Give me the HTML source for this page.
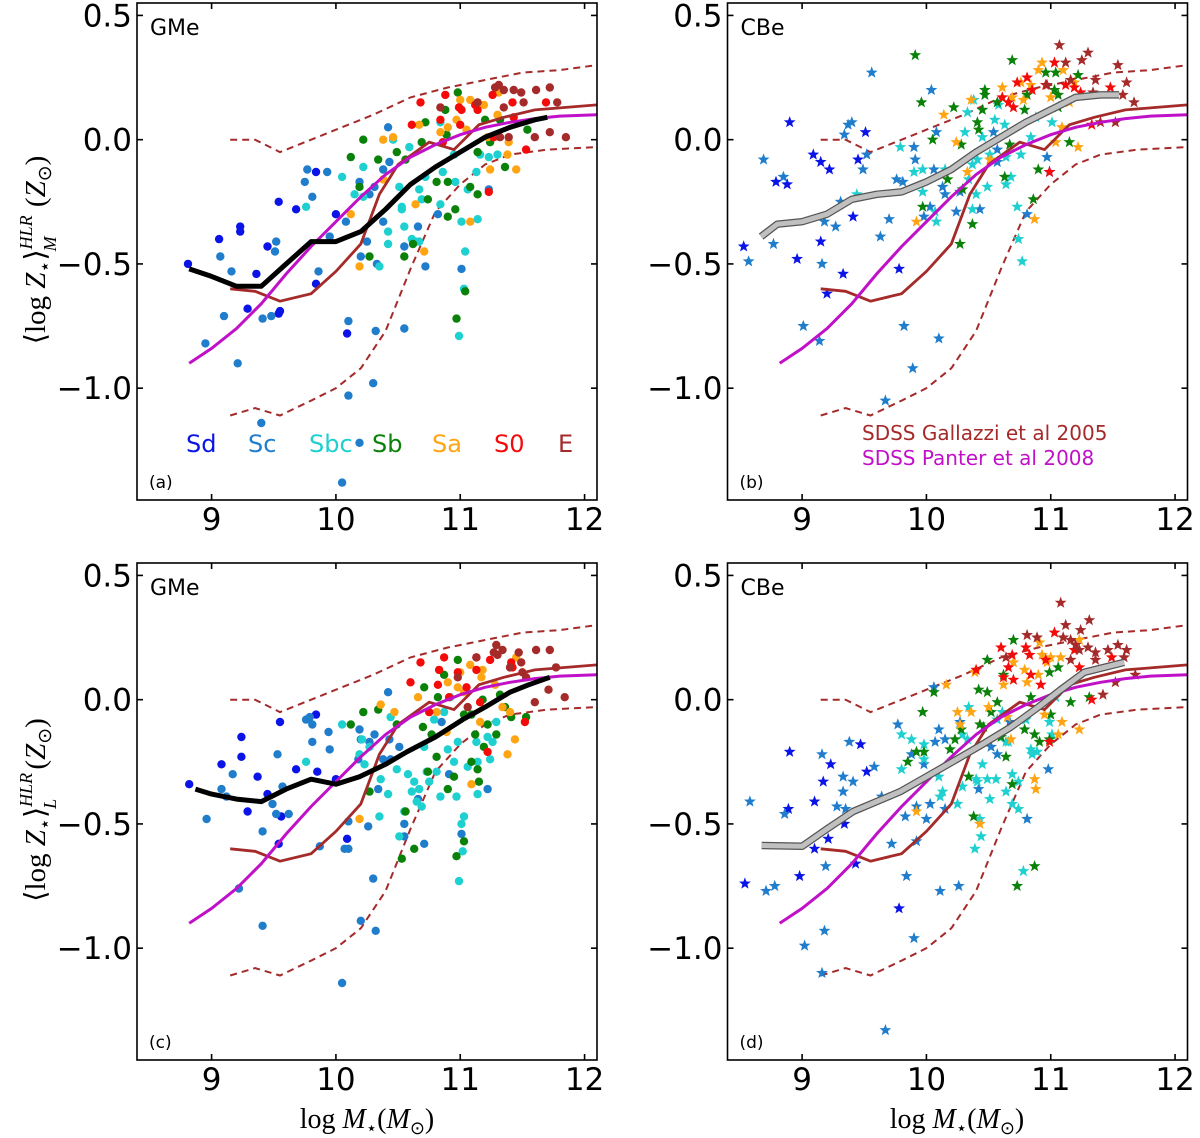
<!DOCTYPE html>
<html><head><meta charset="utf-8"><style>
html,body{margin:0;padding:0;background:#fff;}
svg{display:block;font-family:"DejaVu Sans","Liberation Sans",sans-serif;}
</style></head><body>
<svg id="fig" width="1200" height="1138" viewBox="0 0 1200 1138"></svg>
<script>
// ---- shared reference curves (data coords) ----
const galMedX=[9.15,9.35,9.55,9.8,10.0,10.2,10.35,10.5,10.75,10.95,11.15,11.35,11.6,11.85,12.1];
const galMedY=[-0.60,-0.61,-0.65,-0.62,-0.53,-0.42,-0.22,-0.10,-0.01,-0.04,0.06,0.09,0.12,0.13,0.14];
const galUpX=[9.15,9.35,9.55,9.8,10.0,10.3,10.6,10.9,11.2,11.5,11.8,12.1];
const galUpY=[0.0,0.0,-0.05,0.0,0.04,0.10,0.17,0.21,0.24,0.27,0.28,0.30];
const galLoX=[9.15,9.35,9.55,9.8,10.0,10.2,10.4,10.6,10.8,11.0,11.2,11.4,11.7,12.1];
const galLoY=[-1.11,-1.08,-1.11,-1.05,-1.00,-0.92,-0.77,-0.52,-0.29,-0.18,-0.10,-0.06,-0.04,-0.03];
const panX=[8.82,9.0,9.2,9.4,9.6,9.8,10.0,10.2,10.4,10.6,10.8,11.0,11.2,11.4,11.6,11.8,12.1];
const panY=[-0.90,-0.84,-0.76,-0.66,-0.54,-0.43,-0.33,-0.23,-0.14,-0.07,-0.02,0.02,0.05,0.07,0.085,0.095,0.10];
// ---- per-panel running means ----
const aMeanX=[8.82,9.0,9.2,9.4,9.6,9.8,10.0,10.2,10.4,10.6,10.8,11.0,11.2,11.4,11.6,11.7];
const aMeanY=[-0.52,-0.55,-0.59,-0.59,-0.50,-0.41,-0.41,-0.37,-0.28,-0.18,-0.11,-0.05,0.01,0.05,0.08,0.09];
const bMeanX=[8.67,8.8,9.0,9.2,9.4,9.6,9.8,10.0,10.2,10.4,10.6,10.8,11.0,11.2,11.4,11.55];
const bMeanY=[-0.39,-0.34,-0.33,-0.30,-0.24,-0.22,-0.21,-0.17,-0.12,-0.05,0.01,0.07,0.12,0.17,0.18,0.18];
const cMeanX=[8.87,9.0,9.2,9.4,9.6,9.8,10.0,10.19,10.4,10.57,10.8,11.02,11.2,11.4,11.55,11.72];
const cMeanY=[-0.36,-0.38,-0.40,-0.41,-0.36,-0.32,-0.34,-0.31,-0.26,-0.21,-0.15,-0.08,-0.03,0.03,0.06,0.09];
const dMeanX=[8.675,9.0,9.2,9.41,9.6,9.79,10.0,10.21,10.45,10.68,10.9,11.08,11.27,11.59];
const dMeanY=[-0.587,-0.59,-0.52,-0.45,-0.41,-0.37,-0.31,-0.25,-0.18,-0.11,-0.03,0.04,0.11,0.15];
// ---- scatter data, panel (a) ----
const aSd=[[8.81,-0.50],[9.06,-0.40],[9.23,-0.35],[9.23,-0.37],[9.29,-0.68],[9.36,-0.54],[9.45,-0.43],[9.54,-0.25],[9.68,-0.28],[9.54,-0.70],[9.55,-0.69],[9.84,-0.13],[10.0,-0.30],[10.09,-0.78],[9.84,-0.58]];
const aSc=[[9.07,-0.47],[8.95,-0.82],[9.10,-0.71],[9.16,-0.53],[9.21,-0.90],[9.40,-1.14],[9.41,-0.72],[9.48,-0.71],[9.52,-0.41],[9.51,-0.45],[9.75,-0.17],[9.77,-0.12],[9.81,-0.23],[9.93,-0.13],[9.86,-0.53],[9.95,-0.39],[10.08,-0.33],[10.10,-0.73],[10.10,-1.03],[10.05,-1.38],[10.19,-1.22],[10.30,-0.98],[10.32,-0.77],[10.19,-0.17],[10.27,-0.22],[10.31,-0.19],[10.25,-0.41],[10.20,-0.47],[10.33,-0.50],[10.38,-0.33],[10.42,0.05],[10.43,-0.09],[10.38,-0.12],[10.55,-0.76],[10.55,-0.43],[10.66,-0.35],[10.72,-0.51],[11.01,-0.52],[11.23,-0.20],[10.82,-0.30]];
const aSbc=[[9.76,-0.27],[10.05,-0.15],[10.15,-0.22],[10.22,-0.11],[10.22,-0.23],[10.35,-0.51],[10.42,-0.37],[10.42,-0.42],[10.46,0.0],[10.51,-0.19],[10.53,-0.27],[10.53,-0.28],[10.55,-0.35],[10.59,-0.03],[10.61,-0.40],[10.64,-0.41],[10.67,-0.41],[10.67,-0.20],[10.69,-0.24],[10.72,-0.15],[10.84,-0.26],[10.86,-0.13],[10.95,-0.06],[10.96,-0.17],[11.01,-0.33],[11.03,-0.60],[11.04,-0.45],[10.99,-0.79],[11.06,-0.20],[11.13,-0.13],[11.14,-0.32],[11.16,-0.06],[11.23,-0.07],[11.30,-0.06],[10.84,0.07]];
const aSb=[[10.12,-0.07],[10.22,0.0],[10.19,-0.19],[10.27,-0.47],[10.34,-0.08],[10.49,-0.05],[10.55,-0.47],[10.56,-0.08],[10.62,-0.42],[10.69,-0.01],[10.72,0.07],[10.74,-0.24],[10.81,-0.17],[10.89,0.02],[10.90,-0.17],[10.90,-0.31],[10.96,-0.28],[10.97,-0.72],[11.04,-0.61],[10.98,0.19],[11.08,-0.19],[11.14,-0.22],[11.14,-0.05],[11.20,0.08],[11.24,-0.01],[11.36,-0.11],[11.54,0.04],[11.32,0.08],[10.88,0.12]];
const aSa=[[10.12,-0.30],[10.19,-0.51],[10.38,0.0],[10.38,-0.16],[10.46,0.01],[10.64,-0.26],[10.71,-0.45],[10.67,0.06],[10.84,0.03],[10.90,0.05],[10.97,0.08],[11.0,0.16],[11.08,0.16],[11.08,-0.33],[11.19,0.14],[11.22,0.01],[11.30,0.10],[11.31,0.19],[11.38,-0.06],[11.45,-0.12],[11.39,-0.01],[11.05,0.04],[11.24,-0.12]];
const aS0=[[10.68,0.15],[10.61,0.06],[10.88,0.18],[10.84,0.08],[10.86,-0.01],[10.99,0.13],[11.01,0.12],[11.12,0.14],[11.14,0.12],[11.26,0.18],[11.42,0.15],[11.43,0.09],[11.53,-0.04],[11.69,0.15],[11.23,-0.21],[11.27,0.01],[11.0,0.06]];
const aE=[[11.28,0.21],[11.31,0.22],[11.35,0.20],[11.43,0.20],[11.49,0.19],[11.51,0.15],[11.61,0.20],[11.72,0.21],[11.78,0.15],[11.60,0.01],[11.72,0.03],[11.85,0.01],[11.39,0.01],[11.14,0.15],[10.84,0.13],[11.32,0.01],[11.35,0.13]];
// ---- panel (b) ----
const bSd=[[8.53,-0.43],[8.79,-0.17],[8.88,-0.18],[8.90,0.07],[8.96,-0.48],[9.09,-0.06],[9.15,-0.09],[9.15,-0.41],[9.22,-0.12],[9.33,-0.54],[9.41,-0.31],[9.45,-0.08],[9.51,0.03],[9.78,-0.52],[9.20,-0.62],[10.99,-0.13]];
const bSc=[[8.69,-0.08],[8.57,-0.49],[8.77,-0.42],[8.85,-0.15],[9.01,-0.75],[9.14,-0.81],[9.16,-0.50],[9.18,-0.33],[9.27,-0.35],[9.31,-0.25],[9.34,0.02],[9.37,0.06],[9.40,0.07],[9.49,-0.12],[9.52,-0.06],[9.56,0.27],[9.63,-0.39],[9.70,-0.32],[9.82,-0.75],[9.89,-0.92],[9.67,-1.05],[9.76,-0.16],[9.81,-0.17],[9.90,-0.03],[9.91,-0.08],[9.98,-0.31],[10.03,-0.27],[10.04,0.20],[10.08,0.03],[10.10,-0.80],[10.06,-0.12],[10.13,-0.19],[10.15,-0.22],[10.24,-0.29],[10.27,-0.21],[10.43,-0.28],[10.57,-0.04],[10.57,-0.09],[10.81,-0.30],[10.54,0.03],[10.97,-0.07]];
const bSbc=[[9.44,-0.22],[9.79,-0.03],[9.90,-0.13],[9.97,-0.12],[9.97,-0.21],[10.07,-0.29],[10.08,-0.33],[10.15,-0.12],[10.31,0.03],[10.33,0.11],[10.34,-0.16],[10.37,-0.10],[10.37,-0.28],[10.40,-0.22],[10.41,-0.08],[10.45,0.01],[10.49,-0.19],[10.51,-0.06],[10.55,0.08],[10.58,0.14],[10.63,0.06],[10.64,-0.07],[10.64,-0.18],[10.68,-0.15],[10.73,-0.27],[10.74,-0.40],[10.77,-0.49],[10.76,-0.06],[10.84,0.01],[10.88,0.09],[11.01,0.07],[10.38,0.16]];
const bSb=[[9.91,0.34],[9.96,0.15],[10.05,0.0],[9.97,-0.27],[10.17,-0.16],[10.22,0.13],[10.28,-0.02],[10.27,-0.42],[10.29,-0.20],[10.37,-0.34],[10.41,0.07],[10.42,0.04],[10.45,0.12],[10.47,0.18],[10.47,0.20],[10.69,0.32],[10.67,-0.02],[10.63,-0.15],[10.79,0.12],[10.81,0.18],[10.86,-0.24],[10.90,-0.12],[10.96,0.27],[11.03,0.20],[11.06,0.18],[11.04,0.27],[11.15,-0.01],[11.22,0.26],[11.06,0.13],[10.57,0.15]];
const bSa=[[9.92,-0.33],[10.14,0.10],[10.24,-0.01],[10.33,-0.13],[10.36,0.16],[10.51,-0.08],[10.61,0.21],[10.69,0.17],[10.76,0.23],[10.78,0.16],[10.87,-0.32],[10.90,0.28],[10.93,0.31],[11.00,0.17],[11.04,-0.01],[11.09,0.05],[11.10,0.28],[11.19,0.23],[11.22,-0.03],[11.15,0.15],[10.84,0.22]];
const bS0=[[10.61,0.17],[10.66,0.15],[10.70,0.13],[10.81,0.25],[10.85,0.20],[10.96,0.22],[10.99,-0.13],[11.03,0.31],[11.12,0.22],[11.19,0.21],[11.24,0.19],[11.33,0.06],[11.48,0.21],[10.73,0.23]];
const bE=[[11.07,0.38],[11.12,0.31],[11.16,0.24],[11.25,0.32],[11.30,0.35],[11.36,0.24],[11.34,0.19],[11.40,0.07],[11.54,0.30],[11.52,0.07],[11.58,0.18],[11.61,0.23],[11.67,0.15],[10.97,0.22]];
// ---- panel (c) ----
const cSd=[[8.82,-0.34],[9.08,-0.26],[9.24,-0.23],[9.24,-0.15],[9.37,-0.31],[9.29,-0.45],[9.45,-0.38],[9.54,-0.58],[9.55,-0.09],[9.56,-0.47],[9.68,-0.28],[9.84,-0.06],[9.85,-0.29],[10.0,-0.32],[10.09,-0.56]];
const cSc=[[8.96,-0.48],[9.08,-0.36],[9.12,-0.39],[9.17,-0.30],[9.22,-0.76],[9.41,-0.53],[9.41,-0.91],[9.49,-0.42],[9.52,-0.46],[9.53,-0.22],[9.57,-0.35],[9.62,-0.46],[9.76,-0.08],[9.79,-0.07],[9.81,-0.10],[9.81,-0.17],[9.87,-0.59],[9.94,-0.13],[9.95,-0.20],[10.05,-1.14],[10.07,-0.60],[10.10,-0.49],[10.10,-0.60],[10.18,-0.24],[10.19,-0.12],[10.20,-0.16],[10.20,-0.89],[10.26,-0.51],[10.27,-0.17],[10.30,-0.72],[10.31,-0.14],[10.32,-0.93],[10.34,-0.36],[10.38,-0.24],[10.42,0.03],[10.43,-0.16],[10.44,-0.24],[10.51,-0.19],[10.55,-0.50],[10.55,-0.55],[10.66,-0.40],[10.71,-0.58],[10.85,-0.09],[10.91,-0.30],[11.01,-0.54],[11.22,-0.36]];
const cSbc=[[9.76,-0.25],[10.05,-0.10],[10.19,-0.22],[10.21,-0.16],[10.23,-0.26],[10.27,-0.19],[10.35,-0.47],[10.36,-0.32],[10.42,-0.38],[10.44,-0.07],[10.49,-0.28],[10.51,-0.55],[10.55,-0.45],[10.58,-0.30],[10.61,-0.37],[10.63,-0.33],[10.65,-0.41],[10.67,-0.36],[10.69,-0.43],[10.71,-0.19],[10.73,-0.29],[10.75,-0.33],[10.79,-0.08],[10.81,-0.29],[10.84,-0.39],[10.87,-0.05],[10.90,-0.20],[10.92,0.01],[10.95,-0.25],[10.97,-0.39],[10.98,-0.17],[11.01,-0.50],[11.02,-0.61],[11.03,-0.47],[10.99,-0.73],[11.06,-0.27],[11.13,-0.17],[11.14,-0.25],[11.14,-0.38],[11.22,-0.15],[11.26,-0.17],[11.29,-0.09],[11.24,-0.24]];
const cSb=[[10.12,-0.10],[10.22,-0.05],[10.27,-0.37],[10.34,-0.04],[10.49,-0.10],[10.56,-0.45],[10.53,-0.64],[10.63,-0.60],[10.71,0.05],[10.70,-0.11],[10.74,-0.29],[10.77,-0.14],[10.81,-0.23],[10.82,0.01],[10.87,0.10],[10.90,-0.36],[10.95,-0.31],[10.97,-0.63],[10.98,0.16],[11.03,-0.57],[11.03,-0.06],[11.09,-0.06],[11.09,-0.25],[11.12,-0.14],[11.14,-0.28],[11.15,-0.33],[11.19,-0.19],[11.22,-0.10],[11.29,-0.14],[11.32,0.02],[11.36,-0.03],[11.41,-0.07],[11.53,-0.07],[11.18,0.0]];
const cSa=[[10.19,-0.48],[10.36,-0.02],[10.47,-0.05],[10.66,0.01],[10.81,-0.05],[10.90,0.07],[10.98,0.05],[11.0,0.11],[11.03,0.03],[11.08,0.14],[11.09,-0.34],[11.16,-0.09],[11.17,0.09],[11.18,0.12],[11.28,0.06],[11.34,-0.03],[11.38,-0.22],[11.40,-0.05],[11.44,-0.16],[11.45,0.17],[10.89,-0.13]];
const cS0=[[10.60,0.07],[10.68,0.15],[10.75,-0.05],[10.82,0.06],[10.83,0.12],[10.87,0.17],[10.91,0.01],[10.98,0.11],[11.05,0.05],[11.13,0.12],[11.16,-0.01],[11.22,-0.21],[11.24,0.16],[11.41,0.15],[11.42,0.13],[11.52,-0.09],[11.13,0.17]];
const cE=[[10.98,0.09],[11.06,-0.03],[11.13,0.17],[11.27,0.19],[11.29,0.22],[11.30,0.18],[11.34,0.20],[11.40,0.13],[11.47,0.19],[11.49,0.15],[11.50,0.11],[11.60,-0.01],[11.61,0.20],[11.71,0.04],[11.72,0.20],[11.77,0.13],[11.84,0.01],[11.53,0.09]];
// ---- panel (d) ----
const dSd=[[8.54,-0.74],[8.90,-0.21],[8.89,-0.44],[8.98,-0.71],[9.10,-0.60],[9.10,-0.41],[9.17,-0.33],[9.23,-0.26],[9.21,-0.56],[9.34,-0.50],[9.43,-0.66],[9.47,-0.18],[9.52,-0.29],[9.78,-0.84]];
const dSc=[[8.58,-0.41],[8.71,-0.77],[8.78,-0.75],[8.86,-0.46],[9.02,-0.99],[9.16,-0.22],[9.18,-0.93],[9.16,-1.10],[9.19,-0.67],[9.28,-0.43],[9.33,-0.37],[9.33,-0.31],[9.35,-0.44],[9.38,-0.17],[9.41,-0.33],[9.58,-0.27],[9.64,-0.39],[9.67,-1.33],[9.72,-0.58],[9.77,-0.10],[9.83,-0.47],[9.84,-0.71],[9.90,-0.96],[9.88,-0.22],[9.92,-0.43],[9.92,-0.57],[9.98,-0.26],[10.0,-0.48],[10.03,-0.42],[10.07,-0.17],[10.10,-0.12],[10.11,-0.77],[10.15,-0.16],[10.15,-0.44],[10.26,-0.75],[10.27,-0.09],[10.42,-0.36],[10.52,-0.19],[10.57,-0.22],[10.67,-0.09],[10.81,-0.48],[10.98,-0.28],[10.06,0.05]];
const dSbc=[[9.80,-0.28],[9.80,-0.14],[9.88,-0.16],[9.98,-0.18],[9.98,-0.24],[10.10,-0.31],[10.11,-0.39],[10.13,-0.37],[10.25,-0.42],[10.29,-0.35],[10.29,-0.14],[10.33,-0.16],[10.34,-0.03],[10.40,-0.32],[10.41,-0.33],[10.43,-0.48],[10.44,-0.55],[10.39,-0.60],[10.45,-0.26],[10.49,-0.32],[10.51,-0.40],[10.56,-0.32],[10.57,-0.08],[10.61,-0.05],[10.64,-0.17],[10.64,-0.37],[10.66,-0.17],[10.69,-0.30],[10.69,-0.42],[10.74,-0.44],[10.74,-0.33],[10.78,-0.69],[10.80,-0.08],[10.84,-0.20],[10.85,-0.22],[10.89,-0.21],[10.99,-0.09],[11.01,-0.14],[11.04,0.01]];
const dSb=[[9.97,-0.05],[10.06,0.03],[9.85,-0.25],[9.92,-0.21],[9.98,-0.21],[10.19,-0.20],[10.23,-0.16],[10.28,-0.12],[10.34,-0.31],[10.38,-0.47],[10.42,0.04],[10.43,-0.10],[10.46,-0.11],[10.49,0.03],[10.49,0.16],[10.52,-0.05],[10.57,-0.01],[10.60,-0.15],[10.62,0.10],[10.64,-0.23],[10.69,-0.34],[10.70,0.24],[10.73,-0.75],[10.79,-0.12],[10.84,0.01],[10.87,-0.67],[10.91,-0.17],[10.99,0.11],[11.0,-0.06],[11.06,0.13],[11.16,-0.01],[11.31,0.01],[10.99,-0.16],[10.87,-0.14]];
const dSa=[[9.92,-0.45],[10.16,0.06],[10.25,-0.05],[10.27,-0.10],[10.36,-0.05],[10.39,0.11],[10.43,-0.50],[10.50,-0.03],[10.62,0.06],[10.65,-0.07],[10.68,-0.16],[10.70,0.15],[10.79,0.12],[10.81,0.07],[10.87,-0.32],[10.88,-0.36],[10.90,0.10],[10.91,0.23],[10.93,0.18],[10.95,-0.06],[10.97,0.15],[11.0,0.17],[11.06,-0.14],[11.09,-0.09],[11.08,0.17],[11.23,-0.12],[11.23,0.24]];
const dS0=[[10.40,0.12],[10.60,0.21],[10.62,0.09],[10.66,0.13],[10.69,0.18],[10.70,0.08],[10.80,0.21],[10.83,0.18],[10.84,0.10],[10.92,0.06],[10.96,0.16],[10.99,-0.17],[11.03,0.27],[11.19,0.20],[11.23,0.13],[11.33,0.0],[11.49,0.17]];
const dE=[[10.64,0.17],[10.81,0.26],[10.89,0.25],[11.08,0.39],[11.12,0.30],[11.10,0.25],[11.16,0.24],[11.20,0.22],[11.24,0.28],[11.23,0.20],[11.30,0.21],[11.31,0.32],[11.36,0.19],[11.36,0.16],[11.42,0.02],[11.46,0.20],[11.54,0.22],[11.59,0.17],[11.61,0.20],[11.52,0.07],[11.68,0.10],[11.16,0.16]];

const typeNames=["Sd","Sc","Sbc","Sb","Sa","S0","E"];
const typeColors=["#0a14e6","#1f7dcc","#1fd0d0","#0a820a","#ffa514","#f50a0a","#a52a2a"];
const xTicks=[9,10,11,12];
const yTicks=[0.5,0.0,-0.5,-1.0];
const yTickLabels=["0.5","0.0","\u22120.5","\u22121.0"];

const NS="http://www.w3.org/2000/svg";
const svg=document.getElementById("fig");
function mk(tag,attrs,parent){const e=document.createElementNS(NS,tag);for(const k in attrs)e.setAttribute(k,attrs[k]);(parent||svg).appendChild(e);return e;}

const XMIN=8.4,XMAX=12.1,YMIN=-1.45,YMAX=0.55;
function makePanel(p){
  const g=mk("g",{});
  
  
  const sx=v=>p.x0+(v-XMIN)/(XMAX-XMIN)*(p.x1-p.x0);
  const sy=v=>p.y1-(v-YMIN)/(YMAX-YMIN)*(p.y1-p.y0);
  const path=(xs,ys)=>xs.map((x,i)=>(i?"L":"M")+sx(x).toFixed(1)+","+sy(ys[i]).toFixed(1)).join("");
  const clipId="clip"+p.id;
  const cp=mk("clipPath",{id:clipId},g);mk("rect",{x:p.x0,y:p.y0,width:p.x1-p.x0,height:p.y1-p.y0},cp);
  const inner=mk("g",{"clip-path":"url(#"+clipId+")"},g);
  // reference lines
  let l=mk("path",{d:path(galUpX,galUpY),fill:"none",stroke:"#a52a2a","stroke-width":2,"stroke-dasharray":"7,5"},inner);
  
  l=mk("path",{d:path(galLoX,galLoY),fill:"none",stroke:"#a52a2a","stroke-width":2,"stroke-dasharray":"7,5"},inner);
  
  // scatter
  p.sets.forEach((pts,t)=>{
    pts.forEach(pt=>{
      const cx=sx(pt[0]),cy=sy(pt[1]);let m;
      if(p.star){
        let s="";for(let k=0;k<10;k++){const r=k%2?2.6:6.2;const a=-Math.PI/2+k*Math.PI/5;s+=(cx+r*Math.cos(a)).toFixed(1)+","+(cy+r*Math.sin(a)).toFixed(1)+" ";}
        m=mk("polygon",{points:s,fill:typeColors[t]},inner);
      } else m=mk("circle",{cx:cx.toFixed(1),cy:cy.toFixed(1),r:4.2,fill:typeColors[t]},inner);
      
      
    });
  });
  l=mk("path",{d:path(galMedX,galMedY),fill:"none",stroke:"#a52a2a","stroke-width":2.8},inner);
  
  l=mk("path",{d:path(panX,panY),fill:"none",stroke:"#c010c8","stroke-width":3},inner);
  
  if(p.grey){
    mk("path",{d:path(p.mx,p.my),fill:"none",stroke:"#555","stroke-width":7.5,"stroke-linejoin":"round"},inner);
    l=mk("path",{d:path(p.mx,p.my),fill:"none",stroke:"#c0c0c0","stroke-width":5,"stroke-linejoin":"round"},inner);
  } else l=mk("path",{d:path(p.mx,p.my),fill:"none",stroke:"#000","stroke-width":5,"stroke-linejoin":"round"},inner);
  
  // frame
  const fr=mk("rect",{x:p.x0,y:p.y0,width:p.x1-p.x0,height:p.y1-p.y0,fill:"none",stroke:"#000","stroke-width":1.6},g);
  
  xTicks.forEach(v=>{const x=sx(v);
    mk("line",{x1:x,x2:x,y1:p.y1,y2:p.y1-6,stroke:"#000","stroke-width":1.6},g);
    mk("line",{x1:x,x2:x,y1:p.y0,y2:p.y0+6,stroke:"#000","stroke-width":1.6},g);
    const t=mk("text",{x:x,y:p.y1+30,"font-size":31,"text-anchor":"middle"},g);t.textContent=String(v);
    
  });
  yTicks.forEach((v,i)=>{const y=sy(v);
    mk("line",{x1:p.x0,x2:p.x0+6,y1:y,y2:y,stroke:"#000","stroke-width":1.6},g);
    mk("line",{x1:p.x1,x2:p.x1-6,y1:y,y2:y,stroke:"#000","stroke-width":1.6},g);
    const t=mk("text",{x:p.x0-5,y:y+11,"font-size":31,"text-anchor":"end"},g);t.textContent=yTickLabels[i];
    
  });
  let t=mk("text",{x:p.x0+13,y:p.y0+32,"font-size":22},g);t.textContent=p.tag;
  
  t=mk("text",{x:p.x0+12,y:p.y1-12,"font-size":17},g);t.textContent="("+p.id+")";
  
}
makePanel({id:"a",x0:137,x1:597,y0:3,y1:500,sets:[aSd,aSc,aSbc,aSb,aSa,aS0,aE],mx:aMeanX,my:aMeanY,tag:"GMe"});
makePanel({id:"b",x0:727.5,x1:1187.5,y0:3,y1:500,sets:[bSd,bSc,bSbc,bSb,bSa,bS0,bE],mx:bMeanX,my:bMeanY,tag:"CBe",star:true,grey:true});
makePanel({id:"c",x0:137,x1:597,y0:563,y1:1060,sets:[cSd,cSc,cSbc,cSb,cSa,cS0,cE],mx:cMeanX,my:cMeanY,tag:"GMe"});
makePanel({id:"d",x0:727.5,x1:1187.5,y0:563,y1:1060,sets:[dSd,dSc,dSbc,dSb,dSa,dS0,dE],mx:dMeanX,my:dMeanY,tag:"CBe",star:true,grey:true});

// type legend in panel a
const legX=[186,248,309,372,432,494,558];
typeNames.forEach((n,i)=>{const t=mk("text",{x:legX[i],y:452,"font-size":24,fill:typeColors[i]});t.textContent=n;
  });
let t=mk("text",{x:862,y:440,"font-size":20,fill:"#a52a2a"});t.textContent="SDSS Gallazzi et al 2005";

t=mk("text",{x:862,y:465,"font-size":20,fill:"#c010c8"});t.textContent="SDSS Panter et al 2008";


// axis titles
function ytitle(cy,sub,name){
  const t=mk("text",{transform:"translate(45,"+cy+") rotate(-90)","text-anchor":"middle","font-size":29,"font-family":"Liberation Serif, serif"});
  t.innerHTML='\u27E8log <tspan font-style="italic">Z</tspan><tspan font-size="19" dy="6">\u22C6</tspan><tspan dy="-6">\u27E9</tspan><tspan font-size="18" font-style="italic" dy="-13">HLR</tspan><tspan font-size="18" font-style="italic" dx="-36" dy="24">'+sub+'</tspan><tspan dy="-11" dx="22"> (</tspan><tspan font-style="italic">Z</tspan><tspan font-size="19" dy="6">\u2299</tspan><tspan dy="-6">)</tspan>';
  
}
ytitle(250,"M","y-axis-title-mass");
ytitle(810,"L","y-axis-title-light");
function xtitle(cx,name){
  const t=mk("text",{x:cx,y:1128,"text-anchor":"middle","font-size":28,"font-family":"Liberation Serif, serif"});
  t.innerHTML='log <tspan font-style="italic">M</tspan><tspan font-size="18" dy="6">\u22C6</tspan><tspan dy="-6">(</tspan><tspan font-style="italic">M</tspan><tspan font-size="18" dy="6">\u2299</tspan><tspan dy="-6">)</tspan>';
  
}
xtitle(367,"x-axis-title-left");
xtitle(957,"x-axis-title-right");
</script>
</body></html>
